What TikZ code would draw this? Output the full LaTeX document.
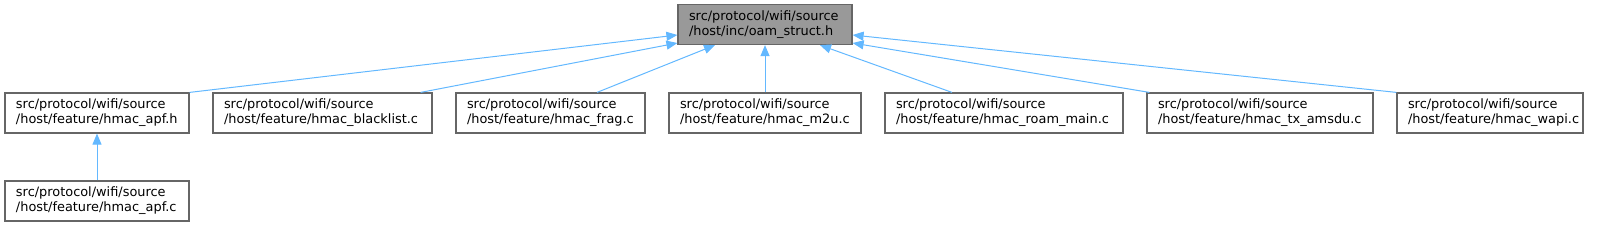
\documentclass[tikz,border=0pt]{standalone}
\usepackage{fontspec}
\setmainfont{DejaVu Sans}
\usetikzlibrary{arrows.meta}
\definecolor{incblue}{HTML}{63B8FF}
\definecolor{boxgray}{HTML}{666666}
\definecolor{rootgray}{HTML}{999999}
\begin{document}
\begin{tikzpicture}[
                x=1pt,
                y=-1pt,
                file/.style={
                    draw=boxgray,
                    fill=white,
                    line width=1.2pt,
                    minimum height=40pt,
                    inner xsep=11pt,
                    inner ysep=0pt,
                    align=left,
                    font=\fontsize{12.9}{15}\selectfont
                },
                root/.style={
                    file,
                    fill=rootgray
                },
                incl/.style={
                    draw=incblue,
                    line width=1pt,
                    -{Triangle[length=11pt,width=9pt]}
                }
            ]

                \useasboundingbox (0,0) rectangle (1597,227);

                \node[root, text width=152pt] (oam) at (765,24.5) {src/protocol/wifi/source\\/host/inc/oam\_struct.h};

                \node[file, text width=162pt] (apfh) at (97,113) {src/protocol/wifi/source\\/host/feature/hmac\_apf.h};
                \node[file, text width=197pt] (blacklist) at (322.5,113) {src/protocol/wifi/source\\/host/feature/hmac\_blacklist.c};
                \node[file, text width=167pt] (frag) at (550.5,113) {src/protocol/wifi/source\\/host/feature/hmac\_frag.c};
                \node[file, text width=170pt] (m2u) at (765,113) {src/protocol/wifi/source\\/host/feature/hmac\_m2u.c};
                \node[file, text width=216pt] (roam) at (1004,113) {src/protocol/wifi/source\\/host/feature/hmac\_roam\_main.c};
                \node[file, text width=204pt] (amsdu) at (1260,113) {src/protocol/wifi/source\\/host/feature/hmac\_tx\_amsdu.c};
                \node[file, text width=164pt] (wapi) at (1490,113) {src/protocol/wifi/source\\/host/feature/hmac\_wapi.c};

                \node[file, text width=162pt] (apfc) at (97,201) {src/protocol/wifi/source\\/host/feature/hmac\_apf.c};

                \draw[incl] (apfh.north east) -- ([yshift=-10.5pt]oam.west);
                \draw[incl] ([xshift=-12pt]blacklist.north east) -- ([yshift=-18.5pt]oam.west);
                \draw[incl] ([xshift=46.5pt]frag.north) -- ([xshift=-50pt]oam.south);
                \draw[incl] (m2u) -- (oam);
                \draw[incl] ([xshift=-52pt]roam.north) -- ([xshift=55pt]oam.south);
                \draw[incl] ([xshift=3pt]amsdu.north west) -- ([yshift=-18.5pt]oam.east);
                \draw[incl] (wapi.north west) -- ([yshift=-10.5pt]oam.east);

                \draw[incl] (apfc) -- (apfh);

            \end{tikzpicture}
\end{document}
